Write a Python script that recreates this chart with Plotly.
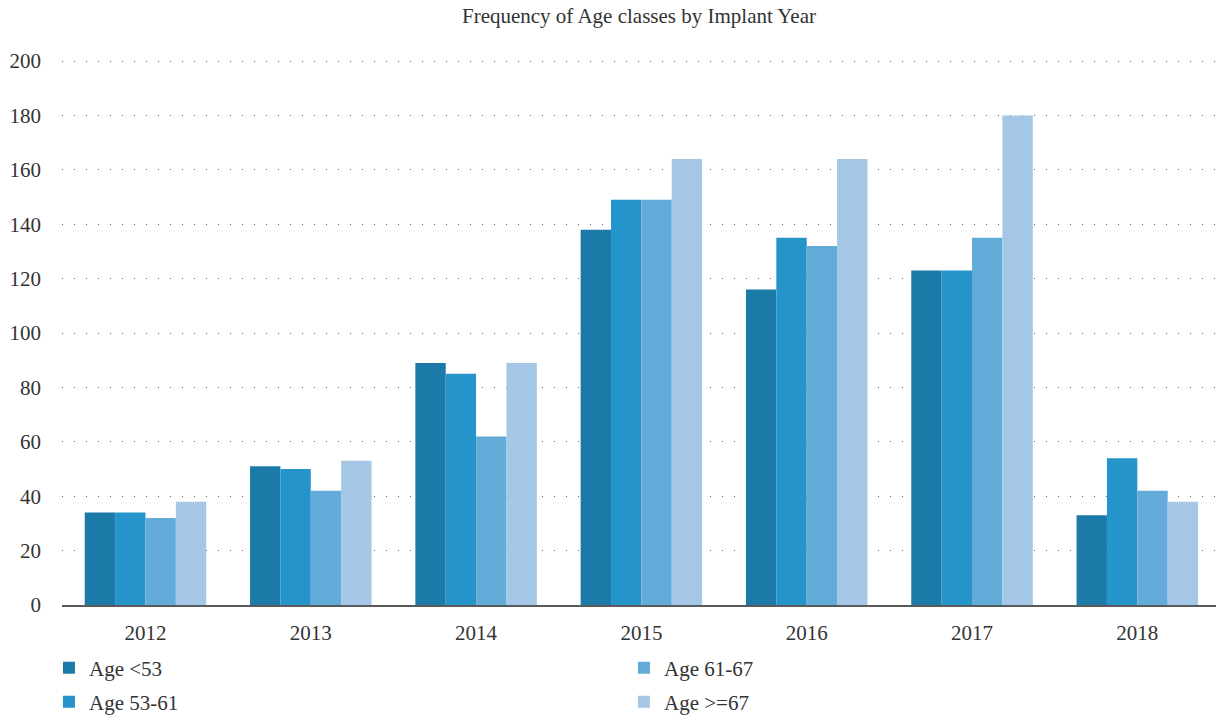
import plotly.graph_objects as go

years = ["2012", "2013", "2014", "2015", "2016", "2017", "2018"]
age_lt53 = [34, 51, 89, 138, 116, 123, 33]
age_53_61 = [34, 50, 85, 149, 135, 123, 54]
age_61_67 = [32, 42, 62, 149, 132, 135, 42]
age_ge67 = [38, 53, 89, 164, 164, 180, 38]
series_names = ["Age <53", "Age 53-61", "Age 61-67", "Age >=67"]
y_ticks = [0, 20, 40, 60, 80, 100, 120, 140, 160, 180, 200]

colors = ["#1b7aa7", "#2594cb", "#63abd9", "#a3c7e4"]
legend_ids = ["legend", "legend2", "legend", "legend2"]
FONT = "Liberation Serif"
FS = 21

fig = go.Figure()
for name, vals, col, lg in zip(series_names, [age_lt53, age_53_61, age_61_67, age_ge67], colors, legend_ids):
    fig.add_trace(go.Bar(x=years, y=vals, name=name, marker=dict(color=col, line=dict(width=0)),
                         legend=lg))

leg_common = dict(orientation="h", x=-0.0113, xanchor="left", yanchor="middle",
                  entrywidth=530, entrywidthmode="pixels", itemsizing="constant",
                  font=dict(family=FONT, size=FS, color="#333333"), traceorder="normal",
                  itemwidth=30, bgcolor="rgba(0,0,0,0)")

fig.update_layout(
    width=1216, height=716,
    barmode="group", bargap=0.265, bargroupgap=0,
    paper_bgcolor="white", plot_bgcolor="white",
    font=dict(family=FONT, size=FS, color="#333333"),
    title=dict(text="Frequency of Age classes by Implant Year", x=0.5, xref="paper",
               y=0.978, yanchor="middle", font=dict(family=FONT, size=FS, color="#333333")),
    margin=dict(l=62, r=0, t=60, b=111, autoexpand=False),
    xaxis=dict(showgrid=False, showline=True, linecolor="#5a5a5a", linewidth=2,
               range=[-0.505, 6.476],
               ticks="", ticklabelstandoff=8, tickfont=dict(size=FS)),
    yaxis=dict(range=[0, 200.4], tickvals=y_ticks, showgrid=True, gridcolor="#666666",
               griddash="1px,11px", gridwidth=1, zeroline=False, showline=False,
               ticks="", ticklabelstandoff=20, tickfont=dict(size=FS)),
    legend=dict(y=-0.1158, **leg_common),
    legend2=dict(y=-0.1783, **leg_common),
    showlegend=True,
)

fig.write_html("out.html", config={"displayModeBar": False},
               post_script="document.body.style.margin='0';document.body.style.overflow='hidden';")
